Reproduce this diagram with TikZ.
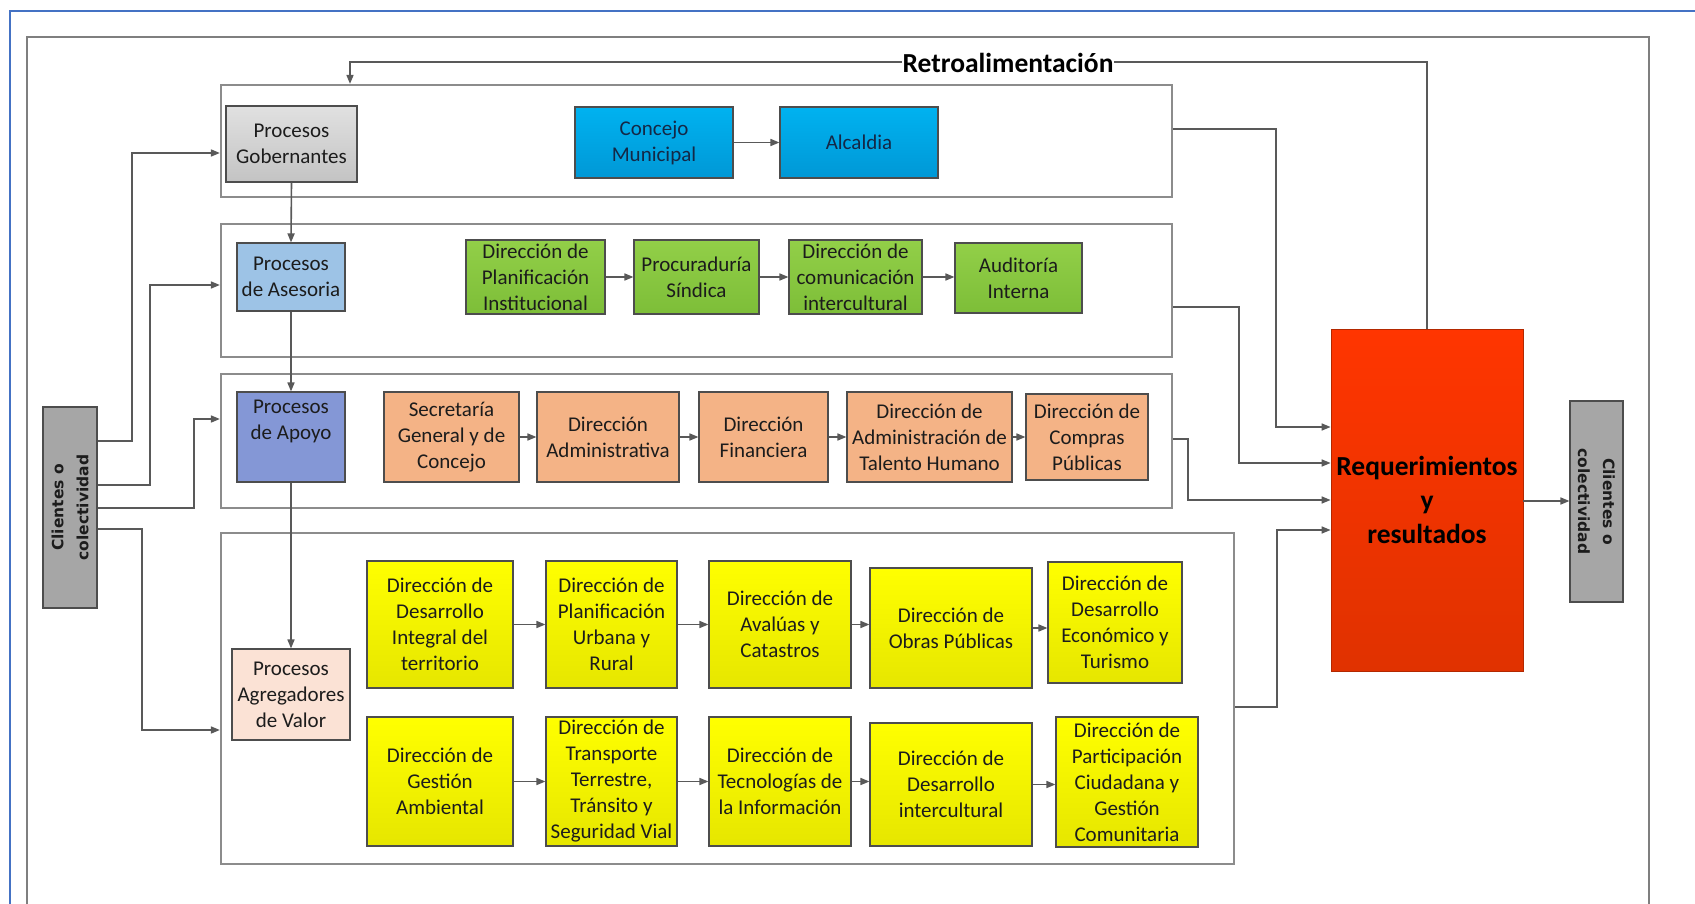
\documentclass[tikz,border=0pt]{standalone}
\usepackage{fontspec}
\setmainfont{Carlito}
\newfontfamily\clifont{DejaVu Sans}
\usetikzlibrary{arrows.meta}

\definecolor{frameblue}{HTML}{4472C4}
\definecolor{framegray}{HTML}{7F7F7F}
\definecolor{contgray}{HTML}{8C8C8C}
\definecolor{linegray}{HTML}{595959}
\definecolor{edgegray}{HTML}{4D4D4D}
\definecolor{txt}{HTML}{1C1C1C}
\definecolor{govgray}{HTML}{D9D9D9}
\definecolor{skyA}{HTML}{00B2F0}
\definecolor{skyB}{HTML}{0098D6}
\definecolor{paleblue}{HTML}{9DC3E6}
\definecolor{greenA}{HTML}{92CF48}
\definecolor{greenB}{HTML}{7DBE38}
\definecolor{slate}{HTML}{8497D6}
\definecolor{peachbox}{HTML}{F4B386}
\definecolor{palepeach}{HTML}{FBE2D5}
\definecolor{yelA}{HTML}{FFFF00}
\definecolor{yelB}{HTML}{E6E600}
\definecolor{redA}{HTML}{FF3500}
\definecolor{redB}{HTML}{E03200}
\definecolor{clientgray}{HTML}{A6A6A6}

% box from corner (x1,y1) to corner (x2,y2)
\newcommand\bx[7]{\node[#6, minimum width={#4-#2}, minimum height={#5-#3}] (#1) at ({(#2+#4)/2},{(#3+#5)/2}) {#7};}

\begin{document}
\begin{tikzpicture}[x=1pt, y=-1pt,
  cont/.style={draw=contgray, line width=2.2pt, fill=white, inner sep=0pt},
  unit/.style={draw=edgegray, line width=1.1pt, inner sep=0pt, align=center,
    text=txt, font=\fontsize{21}{26}\selectfont},
  govbox/.style={unit, top color=govgray!80!white, bottom color=govgray!90!black},
  skybox/.style={unit, top color=skyA, bottom color=skyB, text={rgb,255:red,20;green,40;blue,70}},
  advbox/.style={unit, fill=paleblue},
  grnbox/.style={unit, top color=greenA, bottom color=greenB},
  supbox/.style={unit, fill=slate},
  orgbox/.style={unit, fill=peachbox},
  aggbox/.style={unit, fill=palepeach},
  yelbox/.style={unit, top color=yelA, bottom color=yelB},
  resbox/.style={draw=redB!80!black, line width=0.8pt, inner sep=0pt, align=center,
    top color=redA, bottom color=redB, font=\fontsize{27.5}{34}\selectfont\bfseries},
  clibox/.style={draw=edgegray, line width=1.1pt, fill=clientgray, inner sep=0pt},
  clitext/.style={align=center, text=txt, font=\clifont\fontsize{15.5}{25}\selectfont\bfseries},
  conn/.style={draw=linegray, line width=1.6pt},
  arr/.style={conn, -{Triangle[length=9pt, width=7pt]}}
]
\useasboundingbox (0,0) rectangle (1695,904);
\clip (0,0) rectangle (1695,904);
\fill[white] (0,0) rectangle (1695,904);

% outer frames
\draw[frameblue, line width=2pt] (10,11) rectangle (1720,960);
\draw[framegray, line width=1.6pt] (27,37) rectangle (1649,960);

% process groups
\bx{c1}{221}{85}{1172}{197}{cont}{}
\bx{c2}{221}{224}{1172}{357}{cont}{}
\bx{c3}{221}{374}{1172}{508}{cont}{}
\bx{c4}{221}{533}{1234}{864}{cont}{}

% governing processes
\bx{gob}{226}{106}{357}{182}{govbox}{Procesos\\Gobernantes}
\bx{con}{575}{107}{733}{178}{skybox}{Concejo\\Municipal}
\bx{alc}{780}{107}{938}{178}{skybox}{Alcaldia}

% advisory processes
\bx{ase}{237}{243}{345}{311}{advbox}{Procesos\\de Asesoria}
\bx{dpi}{466}{240}{605}{314}{grnbox}{Dirección de\\Planificación\\Institucional}
\bx{pro}{634}{240}{759}{314}{grnbox}{Procuraduría\\Síndica}
\bx{dci}{789}{240}{922}{314}{grnbox}{Dirección de\\comunicación\\intercultural}
\bx{aud}{955}{243}{1082}{313}{grnbox}{Auditoría\\Interna}

% support processes (label sits in the upper part of its box)
\bx{apo}{237}{392}{345}{482}{supbox}{Procesos\\de Apoyo\\\strut}
\bx{sec}{384}{392}{519}{482}{orgbox}{Secretaría\\General y de\\Concejo}
\bx{dad}{537}{392}{679}{482}{orgbox}{Dirección\\Administrativa}
\bx{dfi}{699}{392}{828}{482}{orgbox}{Dirección\\Financiera}
\bx{dth}{847}{392}{1012}{482}{orgbox}{Dirección de\\Administración de\\Talento Humano}
\bx{dcp}{1026}{394}{1148}{480}{orgbox}{Dirección de\\Compras\\Públicas}

% value-adding processes
\bx{agr}{232}{649}{350}{740}{aggbox}{Procesos\\Agregadores\\de Valor}
\bx{ya}{367}{561}{513}{688}{yelbox}{Dirección de\\Desarrollo\\Integral del\\territorio}
\bx{yb}{546}{561}{677}{688}{yelbox}{Dirección de\\Planificación\\Urbana y\\Rural}
\bx{yc}{709}{561}{851}{688}{yelbox}{Dirección de\\Avalúas y\\Catastros}
\bx{yd}{870}{568}{1032}{688}{yelbox}{Dirección de\\Obras Públicas}
\bx{ye}{1048}{562}{1182}{683}{yelbox}{Dirección de\\Desarrollo\\Económico y\\Turismo}
\bx{za}{367}{717}{513}{846}{yelbox}{Dirección de\\Gestión\\Ambiental}
\bx{zb}{546}{717}{677}{846}{yelbox}{Dirección de\\Transporte\\Terrestre,\\Tránsito y\\Seguridad Vial}
\bx{zc}{709}{717}{851}{846}{yelbox}{Dirección de\\Tecnologías de\\la Información}
\bx{zd}{870}{723}{1032}{846}{yelbox}{Dirección de\\Desarrollo\\intercultural}
\bx{ze}{1056}{717}{1198}{847}{yelbox}{Dirección de\\Participación\\Ciudadana y\\Gestión\\Comunitaria}

% results and clients
\bx{req}{1331}{329}{1523}{671}{resbox}{Requerimientos\\y\\resultados}
\bx{cl}{43}{407}{97}{608}{clibox}{}
\node[clitext, rotate=90] at (cl.center) {Clientes o\\colectividad};
\bx{cr}{1570}{401}{1623}{602}{clibox}{}
\node[clitext, rotate=-90] at (cr.center) {Clientes o\\colectividad};

% flow inside the groups
\draw[arr] (con.east) -- (alc.west);
\foreach \a/\b in {dpi/pro, pro/dci, dci/aud, sec/dad, dad/dfi, dfi/dth, dth/dcp,
                   ya/yb, yb/yc, yc/yd, yd/ye, za/zb, zb/zc, zc/zd, zd/ze}
  \draw[arr] (\a.east) -- (\a.east -| \b.west);

% hierarchy
\draw[arr] (gob.south) -- (ase.north);
\draw[arr] (ase.south) -- (apo.north);
\draw[arr] (apo.south) -- (agr.north);

% clients feed every group
\coordinate (a1) at (132,441); \coordinate (b1) at (132,153);
\coordinate (a2) at (150,485); \coordinate (b2) at (150,285);
\coordinate (a3) at (194,508); \coordinate (b3) at (194,419);
\coordinate (a4) at (142,529); \coordinate (b4) at (142,730);
\draw[arr] (cl.east |- a1) -- (a1) -- (b1) -- (c1.west |- b1);
\draw[arr] (cl.east |- a2) -- (a2) -- (b2) -- (c2.west |- b2);
\draw[arr] (cl.east |- a3) -- (a3) -- (b3) -- (c3.west |- b3);
\draw[arr] (cl.east |- a4) -- (a4) -- (b4) -- (c4.west |- b4);

% every group delivers results
\coordinate (p1) at (1276,129); \coordinate (q1) at (1276,427);
\coordinate (p2) at (1239,307); \coordinate (q2) at (1239,463);
\coordinate (p3) at (1188,439); \coordinate (q3) at (1188,500);
\coordinate (p4) at (1277,707); \coordinate (q4) at (1277,530);
\draw[arr] (c1.east |- p1) -- (p1) -- (q1) -- (req.west |- q1);
\draw[arr] (c2.east |- p2) -- (p2) -- (q2) -- (req.west |- q2);
\draw[arr] (c3.east |- p3) -- (p3) -- (q3) -- (req.west |- q3);
\draw[arr] (c4.east |- p4) -- (p4) -- (q4) -- (req.west |- q4);

% results to clients
\coordinate (o1) at (0,501);
\draw[arr] (req.east |- o1) -- (cr.west |- o1);

% feedback loop
\coordinate (f1) at (1427,62); \coordinate (f2) at (350,62);
\draw[arr] (req.north -| f1) -- (f1) -- (f2) -- (c1.north -| f2);
\node[fill=white, inner xsep=1pt, inner ysep=2pt, text=black,
  font=\fontsize{27.5}{32}\selectfont\bfseries] (fbl) at (1008,63) {Retroalimentación};
\end{tikzpicture}
\end{document}
